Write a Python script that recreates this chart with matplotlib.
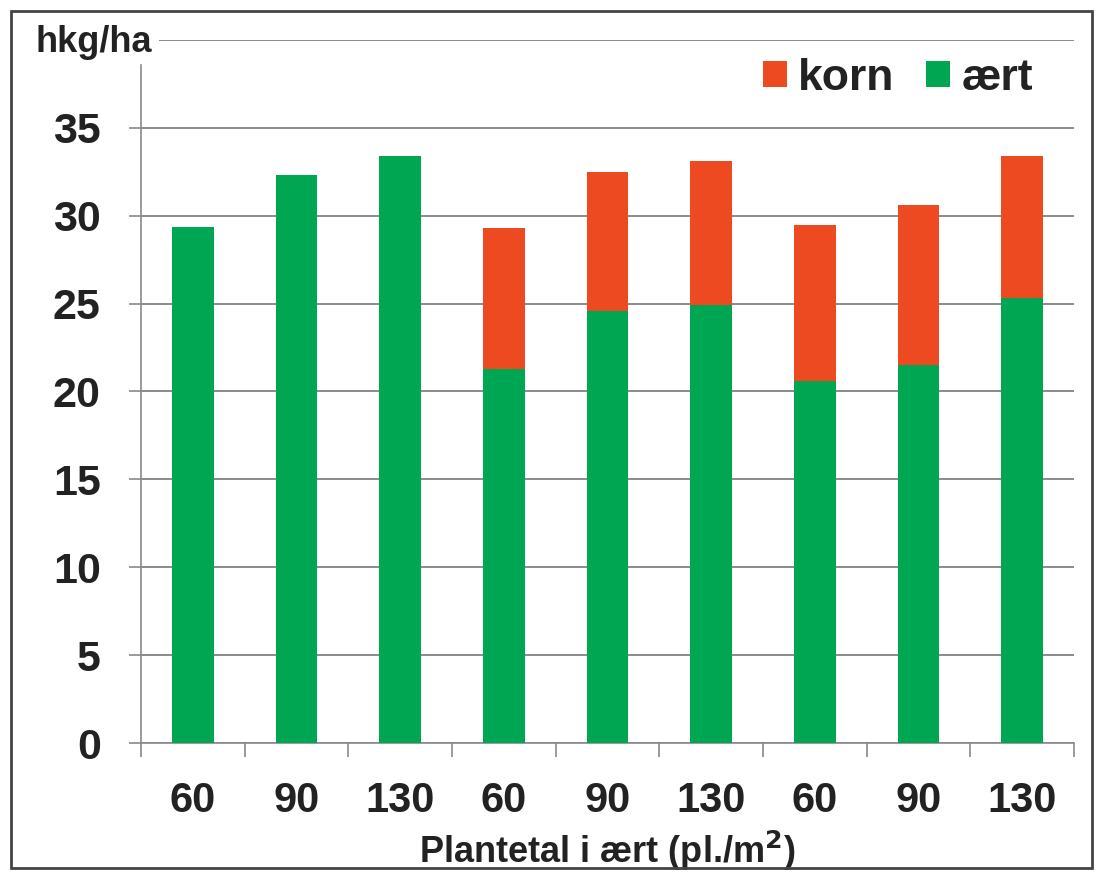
import numpy as np
import matplotlib
matplotlib.use('Agg')
import matplotlib.pyplot as plt
from matplotlib.patches import Rectangle

plt.rcParams['font.family'] = ['Liberation Sans', 'DejaVu Sans']
plt.rcParams['font.weight'] = 'bold'

# Data
labels = ['60', '90', '130', '60', '90', '130', '60', '90', '130']
aert = [29.35, 32.3, 33.4, 21.3, 24.6, 24.9, 20.6, 21.5, 25.3]
total = [29.35, 32.3, 33.4, 29.3, 32.5, 33.1, 29.5, 30.6, 33.4]
korn = [t - a for t, a in zip(total, aert)]

green = '#00A651'
red = '#EE4A22'
grid_col = '#8a8a8a'

fig = plt.figure(figsize=(10.97, 8.73), dpi=100)
ax = fig.add_axes([0.1285, 0.1489, 0.979 - 0.1285, 0.9542 - 0.1489])

x = np.arange(len(labels))
ax.bar(x, aert, width=0.40, color=green, label='ært', zorder=3)
ax.bar(x, korn, width=0.40, bottom=aert, color=red, label='korn', zorder=3)

ax.set_xlim(-0.5, len(labels) - 0.5)
ax.set_ylim(0, 40)

# y axis
ax.set_yticks(np.arange(0, 40, 5))
ax.tick_params(axis='y', which='major', length=9, width=1.2, color=grid_col,
               labelsize=31, pad=20)
ax.yaxis.grid(True, color=grid_col, linewidth=1.4, zorder=0)
ax.axhline(40, xmin=(160 - 141) / (1074 - 141), xmax=1, color=grid_col, linewidth=1.4)

# x axis: labels at centers, ticks at category boundaries
ax.set_xticks(x)
ax.set_xticklabels(labels)
ax.set_xticks(np.arange(-0.5, len(labels), 1), minor=True)
ax.tick_params(axis='x', which='major', length=0, labelsize=30, pad=27)
ax.tick_params(axis='x', which='minor', length=10, width=1.2, color=grid_col)
for t in ax.get_xticklabels() + ax.get_yticklabels():
    t.set_fontweight('bold')
    t.set_color('#222222')

for s in ['top', 'right']:
    ax.spines[s].set_visible(False)
ax.spines['left'].set_bounds(0, 38.6)
ax.spines['left'].set_color(grid_col)
ax.spines['bottom'].set_color(grid_col)
ax.spines['left'].set_linewidth(1.2)
ax.spines['bottom'].set_linewidth(1.2)

ax.set_xlabel('Plantetal i ært (pl./m$^{\\mathbf{2}}$)', fontsize=26, fontweight='bold',
              color='#222222', labelpad=6)

fig.text(36 / 1097, 1 - 52 / 873, 'hkg/ha', fontsize=26, fontweight='bold',
         color='#222222', ha='left', va='baseline')

handles, lbls = ax.get_legend_handles_labels()
leg = ax.legend(handles[::-1], lbls[::-1], loc='upper right', ncol=2, frameon=False,
                handlelength=0.55, handleheight=0.55, handletextpad=0.25,
                columnspacing=0.7, borderaxespad=0.0,
                bbox_to_anchor=(0.975, 1.0),
                prop={'size': 32, 'weight': 'bold'})
for t in leg.get_texts():
    t.set_color('#222222')

# outer frame
fig.patches.append(Rectangle((11 / 1097, 1 - 868 / 873), (1092 - 11) / 1097, (868 - 11) / 873,
                             transform=fig.transFigure, fill=False,
                             edgecolor='#444444', linewidth=2))

fig.savefig('out.png', dpi=100)
